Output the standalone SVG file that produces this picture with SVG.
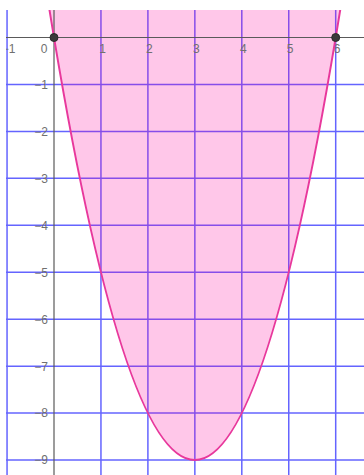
<svg xmlns="http://www.w3.org/2000/svg" width="364" height="475" viewBox="0 0 364 475">
<defs>
<clipPath id="plot"><rect x="6" y="10" width="358" height="465"/></clipPath>
</defs>
<style>
.grid{stroke:#6464ff;stroke-width:1.5;fill:none}
.axis{stroke:#5a5a5a;stroke-width:1.2;fill:none}
.lbl{font-family:"Liberation Sans",Arial,sans-serif;font-size:12px;fill:#707070}
.xl{text-anchor:middle}
.yl{text-anchor:end}
.pt{fill:#3a3a3a;stroke:#2a2a2a;stroke-width:1}
</style>
<rect width="364" height="475" fill="#ffffff"/>
<g clip-path="url(#plot)">
<g id="grid">
<line class="grid" x1="7.05" y1="10" x2="7.05" y2="475"/>
<line class="grid" x1="100.95" y1="10" x2="100.95" y2="475"/>
<line class="grid" x1="147.9" y1="10" x2="147.9" y2="475"/>
<line class="grid" x1="194.85" y1="10" x2="194.85" y2="475"/>
<line class="grid" x1="241.8" y1="10" x2="241.8" y2="475"/>
<line class="grid" x1="288.75" y1="10" x2="288.75" y2="475"/>
<line class="grid" x1="335.7" y1="10" x2="335.7" y2="475"/>
<line class="grid" x1="6" y1="84.45" x2="364" y2="84.45"/>
<line class="grid" x1="6" y1="131.4" x2="364" y2="131.4"/>
<line class="grid" x1="6" y1="178.35" x2="364" y2="178.35"/>
<line class="grid" x1="6" y1="225.3" x2="364" y2="225.3"/>
<line class="grid" x1="6" y1="272.25" x2="364" y2="272.25"/>
<line class="grid" x1="6" y1="319.2" x2="364" y2="319.2"/>
<line class="grid" x1="6" y1="366.15" x2="364" y2="366.15"/>
<line class="grid" x1="6" y1="413.1" x2="364" y2="413.1"/>
<line class="grid" x1="6" y1="460.05" x2="364" y2="460.05"/>
</g>
<g id="region">
<path d="M30.525,-115.09 Q194.85,1035.19 359.175,-115.09 Z" fill="#ff0099" fill-opacity="0.22" stroke="none"/>
</g>
<g id="axes">
<line class="axis" x1="6" y1="37.5" x2="364" y2="37.5"/>
<line class="axis" x1="54" y1="10" x2="54" y2="475"/>
</g>
<g id="labels">
<text class="lbl xl" x="8.5" y="53">−1</text>
<text class="lbl xl" x="44" y="53">0</text>
<text class="lbl xl" x="102.5" y="53">1</text>
<text class="lbl xl" x="149.4" y="53">2</text>
<text class="lbl xl" x="196.3" y="53">3</text>
<text class="lbl xl" x="243.3" y="53">4</text>
<text class="lbl xl" x="290.2" y="53">5</text>
<text class="lbl xl" x="337.2" y="53">6</text>
<text class="lbl yl" x="48" y="88.8">−1</text>
<text class="lbl yl" x="48" y="135.7">−2</text>
<text class="lbl yl" x="48" y="182.7">−3</text>
<text class="lbl yl" x="48" y="229.6">−4</text>
<text class="lbl yl" x="48" y="276.6">−5</text>
<text class="lbl yl" x="48" y="323.5">−6</text>
<text class="lbl yl" x="48" y="370.5">−7</text>
<text class="lbl yl" x="48" y="417.4">−8</text>
<text class="lbl yl" x="48" y="464.4">−9</text>
</g>
<g id="connectors">
<path id="parabola" d="M30.525,-115.09 Q194.85,1035.19 359.175,-115.09" fill="none" stroke="#e8389c" stroke-width="2"/>
</g>
<g id="point-A"><circle class="pt" cx="54" cy="37.5" r="4"/></g>
<g id="point-B"><circle class="pt" cx="335.7" cy="37.5" r="4"/></g>
</g>
</svg>
